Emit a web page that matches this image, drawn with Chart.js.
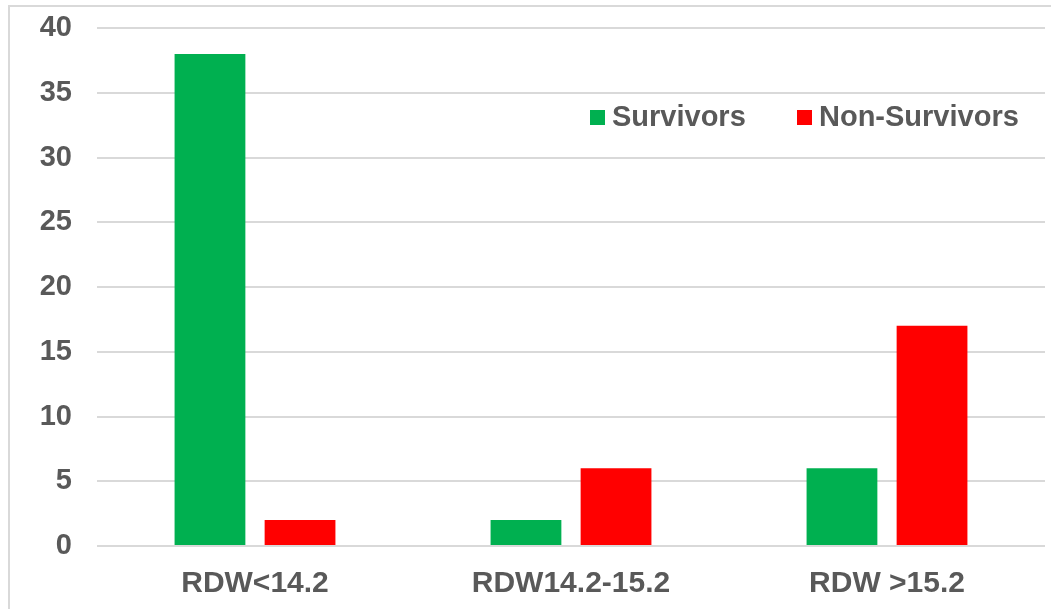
<!DOCTYPE html>
<html>
<head>
<meta charset="utf-8">
<script src="https://cdn.jsdelivr.net/npm/chart.js@4.4.1/dist/chart.umd.min.js"></script>
<style>
  body { margin: 0; background: #fff; }
  #wrap { position: relative; width: 1051px; height: 609px; overflow: hidden; }
  #frame { position: absolute; left: 8px; top: 5px; right: -10px; bottom: -10px;
           border-left: 2px solid #d9d9d9; border-top: 2px solid #d9d9d9; }
  #rdwChart { position: absolute; left: 0; top: 0; }
</style>
</head>
<body>
<div id="wrap">
  <div id="frame"></div>
  <canvas id="rdwChart" width="1051" height="609"></canvas>
</div>
<script>
const categories = ['RDW<14.2', 'RDW14.2-15.2', 'RDW >15.2'];
const survivors = [38, 2, 6];
const nonSurvivors = [2, 6, 17];
const yTicks = [0, 5, 10, 15, 20, 25, 30, 35, 40];

const textColor = '#595959';
const fontFamily = '"Liberation Sans", Arial, sans-serif';

// legend drawn inside the plot, top right
const innerLegend = {
  id: 'innerLegend',
  afterDraw(chart) {
    const ctx = chart.ctx;
    const items = [
      { x: 590, ds: chart.data.datasets[0] },
      { x: 797, ds: chart.data.datasets[1] }
    ];
    ctx.save();
    ctx.font = 'bold 29px ' + fontFamily;
    ctx.textBaseline = 'middle';
    items.forEach(it => {
      ctx.fillStyle = it.ds.backgroundColor;
      ctx.fillRect(it.x, 110, 15, 15);
      ctx.fillStyle = textColor;
      ctx.fillText(it.ds.label, it.x + 22, 118);
    });
    ctx.restore();
  }
};

const rdwChart = document.getElementById('rdwChart');

new Chart(rdwChart, {
  type: 'bar',
  data: {
    labels: categories,
    datasets: [
      {
        label: 'Survivors',
        data: survivors,
        backgroundColor: '#00b050',
        categoryPercentage: 0.57,
        barPercentage: 0.786
      },
      {
        label: 'Non-Survivors',
        data: nonSurvivors,
        backgroundColor: '#ff0000',
        categoryPercentage: 0.57,
        barPercentage: 0.786
      }
    ]
  },
  options: {
    responsive: false,
    animation: false,
    layout: { padding: { top: 28, right: 6, left: 0, bottom: 0 } },
    plugins: {
      legend: { display: false },
      tooltip: { enabled: false }
    },
    scales: {
      x: {
        grid: { display: false },
        border: { display: false },
        ticks: {
          color: textColor,
          padding: 12,
          font: { family: fontFamily, size: 30, weight: 'bold' }
        },
        afterFit(scale) { scale.height = 63; }
      },
      y: {
        min: 0,
        max: 40,
        afterBuildTicks(scale) { scale.ticks = yTicks.map(v => ({ value: v })); },
        grid: { color: '#d9d9d9', lineWidth: 2, drawTicks: false },
        border: { display: false },
        ticks: {
          color: textColor,
          padding: 25,
          font: { family: fontFamily, size: 29, weight: 'bold' }
        },
        afterFit(scale) {
          scale.width = 97;
          scale.paddingTop = 0;
          scale.paddingBottom = 0;
        }
      }
    }
  },
  plugins: [innerLegend]
});
</script>
</body>
</html>
